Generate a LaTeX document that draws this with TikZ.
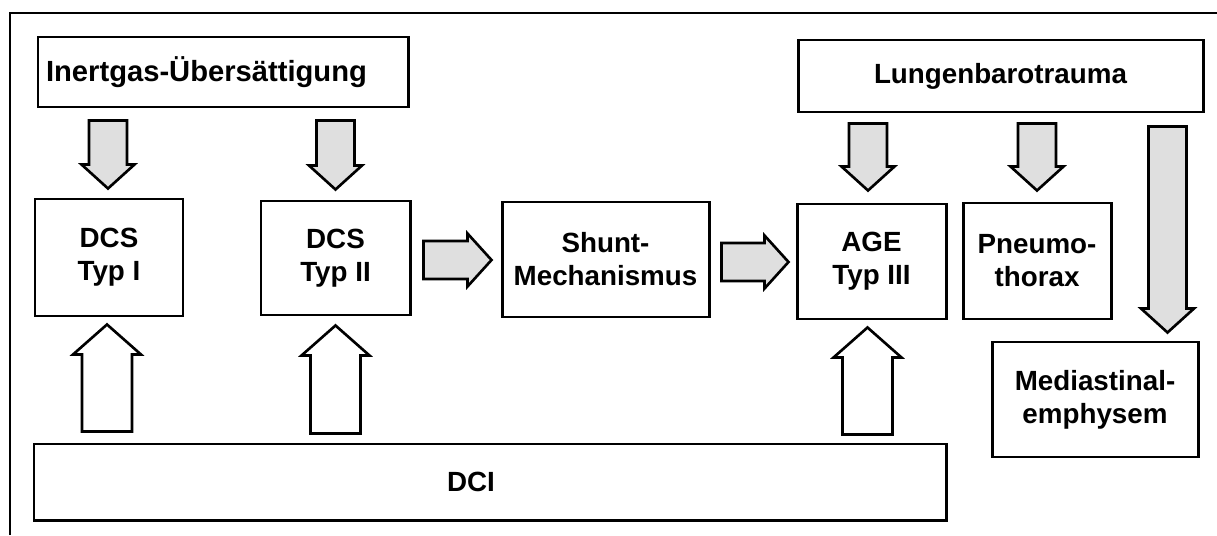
\documentclass[tikz,border=0pt]{standalone}
\usepackage{fontspec}
\setmainfont{Liberation Sans}
\usetikzlibrary{calc}

\tikzset{
  box/.style={draw, line width=1.7pt, align=center, inner sep=0pt,
    font=\bfseries\fontsize{15.8}{18.8}\selectfont},
  grayarrow/.style={draw, line width=1.5pt, fill=gray!25,
    /utils/exec={\def\shaftw{0.38cm}\def\headw{0.53cm}\def\headl{0.48cm}}},
  whitearrow/.style={draw, line width=1.5pt, fill=white,
    /utils/exec={\def\shaftw{0.5cm}\def\headw{0.68cm}\def\headl{0.6cm}}}
}

% block arrow from #2 to tip #3
\newcommand{\fatarrow}[3][grayarrow]{%
  \draw[#1] let \p1=#2, \p2=#3,
      \n1={veclen(\x2-\x1,\y2-\y1)}, \n2={atan2(\y2-\y1,\x2-\x1)} in
    [shift={(\p1)}, rotate=\n2]
    (0pt,-\shaftw) -- ({\n1*1pt-\headl},-\shaftw) -- ({\n1*1pt-\headl},-\headw)
    -- ({\n1*1pt},0pt) -- ({\n1*1pt-\headl},\headw) -- ({\n1*1pt-\headl},\shaftw)
    -- (0pt,\shaftw) -- cycle;
}

\begin{document}
\begin{tikzpicture}
	\useasboundingbox (0,0) rectangle (24.34,10.7);
	\draw[line width=1.7pt] (0.2,0) -- (0.2,10.44) -- (24.34,10.44);

	\node[box, minimum width=7.4cm, minimum height=1.4cm, font=\bfseries\fontsize{16.6}{18.8}\selectfont] (inert) at (4.46,9.26) {Inertgas-Übersättigung\hspace*{0.66cm}};
	\node[box, minimum width=8.1cm, minimum height=1.44cm] (lungen) at (20.01,9.18) {Lungenbarotrauma};

	\node[box, minimum width=2.96cm, minimum height=2.34cm] (dcs1) at (2.18,5.55) {DCS\\Typ I};
	\node[box, minimum width=2.98cm, minimum height=2.28cm] (dcs2) at (6.71,5.54) {DCS\\Typ II};
	\node[box, minimum width=4.14cm, minimum height=2.3cm] (shunt) at (12.11,5.51) {Shunt-\\Mechanismus};
	\node[box, minimum width=2.98cm, minimum height=2.3cm] (age) at (17.43,5.47) {AGE\\Typ III};
	\node[box, minimum width=2.96cm, minimum height=2.32cm] (pneumo) at (20.74,5.48) {Pneumo-\\thorax};
	\node[box, minimum width=4.12cm, minimum height=2.3cm] (medi) at (21.9,2.71) {Mediastinal-\\emphysem};

	\node[box, minimum width=18.24cm, minimum height=1.52cm] (dci) at (9.8,1.06) {DCI\hspace*{0.76cm}};

	% gray arrows down
	\fatarrow{($(dcs1.north |- inert.south)+(-0.02,-0.24)$)}{($(dcs1.north)+(-0.02,0.18)$)}
	\fatarrow{($(dcs2.north |- inert.south)+(0,-0.24)$)}{($(dcs2.north)+(0,0.2)$)}
	\fatarrow{($(age.north |- lungen.south)+(-0.07,-0.2)$)}{($(age.north)+(-0.07,0.24)$)}
	\fatarrow{($(pneumo.north |- lungen.south)+(0,-0.2)$)}{($(pneumo.north)+(0,0.22)$)}
	\coordinate (mtip) at ($(medi.north east)+(-0.64,0.16)$);
	\fatarrow{($(mtip |- lungen.south)+(0,-0.26)$)}{(mtip)}

	% gray arrows right
	\fatarrow{($(dcs2.east)+(0.24,-0.04)$)}{($(shunt.west |- dcs2.east)+(-0.18,-0.04)$)}
	\fatarrow{($(shunt.east)+(0.22,-0.05)$)}{($(age.west |- shunt.east)+(-0.14,-0.05)$)}

	% white arrows up
	\fatarrow[whitearrow]{($(dcs1.south |- dci.north)+(-0.04,0.22)$)}{($(dcs1.south)+(-0.04,-0.14)$)}
	\fatarrow[whitearrow]{($(dcs2.south |- dci.north)+(0,0.18)$)}{($(dcs2.south)+(0,-0.18)$)}
	\fatarrow[whitearrow]{($(age.south |- dci.north)+(-0.08,0.16)$)}{($(age.south)+(-0.08,-0.14)$)}
\end{tikzpicture}
\end{document}
